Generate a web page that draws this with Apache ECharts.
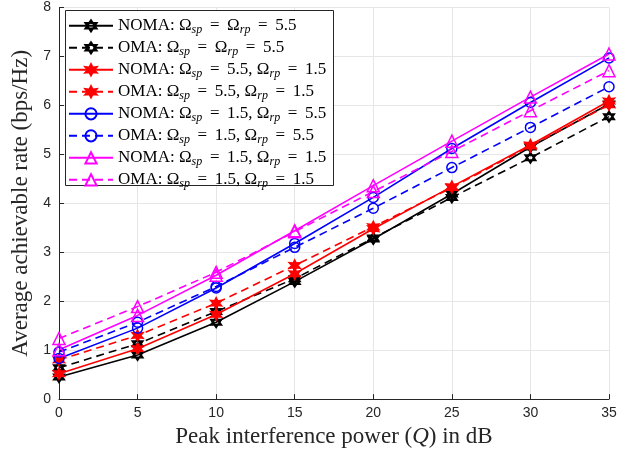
<!DOCTYPE html>
<html>
<head>
<meta charset="utf-8">
<script src="https://cdn.jsdelivr.net/npm/echarts@6/dist/echarts.min.js"></script>
<style>html,body{margin:0;padding:0;background:#fff;}#c{width:638px;height:453px;}</style>
</head>
<body>
<div id="c"></div>
<script>
const xValues = [0, 5, 10, 15, 20, 25, 30, 35];
const yTicks = [0, 1, 2, 3, 4, 5, 6, 7, 8];
const seriesNames = [
  'NOMA: Ω_sp = Ω_rp = 5.5',
  'OMA: Ω_sp = Ω_rp = 5.5',
  'NOMA: Ω_sp = 5.5, Ω_rp = 1.5',
  'OMA: Ω_sp = 5.5, Ω_rp = 1.5',
  'NOMA: Ω_sp = 1.5, Ω_rp = 5.5',
  'OMA: Ω_sp = 1.5, Ω_rp = 5.5',
  'NOMA: Ω_sp = 1.5, Ω_rp = 1.5',
  'OMA: Ω_sp = 1.5, Ω_rp = 1.5'
];
const nomaA = [0.45, 0.90, 1.57, 2.40, 3.27, 4.19, 5.15, 6.03];
const omaA  = [0.64, 1.13, 1.79, 2.46, 3.29, 4.12, 4.93, 5.77];
const nomaB = [0.52, 1.03, 1.73, 2.56, 3.48, 4.34, 5.19, 6.09];
const omaB  = [0.80, 1.30, 1.96, 2.73, 3.52, 4.32, 5.17, 6.01];
const nomaC = [0.83, 1.45, 2.27, 3.18, 4.12, 5.12, 6.06, 6.97];
const omaC  = [0.96, 1.57, 2.30, 3.10, 3.90, 4.73, 5.55, 6.38];
const nomaD = [1.01, 1.71, 2.53, 3.44, 4.36, 5.27, 6.17, 7.05];
const omaD  = [1.24, 1.89, 2.59, 3.42, 4.24, 5.06, 5.89, 6.71];
const seriesValues = [nomaA, omaA, nomaB, omaB, nomaC, omaC, nomaD, omaD];

const hexagram = 'path://M0,-10 L8.66,5 L-8.66,5 Z M0,10 L8.66,-5 L-8.66,-5 Z';
const star6 = 'path://M0,-10 L2.5,-4.3 L8.66,-5 L5,0 L8.66,5 L2.5,4.3 L0,10 L-2.5,4.3 L-8.66,5 L-5,0 L-8.66,-5 L-2.5,-4.3 Z';

const styles = [
  {c:'#000000', dash:'solid', sym:hexagram, size:10, fill:false},
  {c:'#000000', dash:[8,5], sym:hexagram, size:10, fill:false},
  {c:'#ff0000', dash:'solid', sym:star6, size:11, fill:true},
  {c:'#ff0000', dash:[8,5], sym:star6, size:11, fill:true},
  {c:'#0000ff', dash:'solid', sym:'circle', size:10, fill:false},
  {c:'#0000ff', dash:[8,5], sym:'circle', size:10, fill:false},
  {c:'#ff00ff', dash:'solid', sym:'triangle', size:12, fill:false},
  {c:'#ff00ff', dash:[8,5], sym:'triangle', size:12, fill:false}
];

const series = seriesNames.map((name, i) => {
  const s = styles[i];
  return {
    name: name,
    type: 'line',
    data: xValues.map((x, j) => [x, seriesValues[i][j]]),
    symbol: s.sym,
    symbolSize: s.size,
    lineStyle: {color: s.c, width: 1.6, type: s.dash},
    itemStyle: {color: s.fill ? s.c : 'rgba(0,0,0,0)', borderColor: s.c, borderWidth: s.sym === hexagram ? 2 : 1.5},
    emphasis: {disabled: true},
    animation: false
  };
});

const chart = echarts.init(document.getElementById('c'), null, {renderer: 'canvas'});
chart.setOption({
  backgroundColor: '#ffffff',
  animation: false,
  grid: {left: 59, right: 29, top: 7.5, bottom: 53, containLabel: false},
  graphic: [{
    type: 'rect', left: 65, top: 10, z: 3,
    shape: {width: 268, height: 175},
    style: {fill: '#ffffff', stroke: '#262626', lineWidth: 1}
  }],
  xAxis: {
    type: 'value', min: 0, max: 35, interval: 5,
    name: 'Peak interference power ({i|Q}) in dB',
    nameLocation: 'middle', nameGap: 25,
    nameTextStyle: {fontFamily: 'Liberation Serif', fontSize: 23, color: '#262626',
      rich: {i: {fontFamily: 'Liberation Serif', fontSize: 23, fontStyle: 'italic', color: '#262626'}}},
    axisLine: {onZero: false, lineStyle: {color: '#262626', width: 1}},
    axisTick: {inside: true, length: 5, lineStyle: {color: '#262626'}},
    axisLabel: {fontFamily: 'Liberation Sans', fontSize: 14, color: '#262626', margin: 7},
    splitLine: {show: true, lineStyle: {color: '#e6e6e6', width: 1}}
  },
  yAxis: {
    type: 'value', min: 0, max: 8, interval: 1,
    name: 'Average achievable rate (bps/Hz)',
    nameLocation: 'middle', nameGap: 17,
    nameTextStyle: {fontFamily: 'Liberation Serif', fontSize: 23, color: '#262626'},
    axisLine: {show: true, lineStyle: {color: '#262626', width: 1}},
    axisTick: {show: true, inside: true, length: 5, lineStyle: {color: '#262626'}},
    axisLabel: {fontFamily: 'Liberation Sans', fontSize: 14, color: '#262626', margin: 8,
      formatter: v => yTicks.indexOf(v) >= 0 ? String(v) : ''},
    splitLine: {show: true, lineStyle: {color: '#e6e6e6', width: 1}}
  },
  legend: {
    orient: 'vertical', left: 68, top: 15.8, z: 5,
    padding: 0,
    itemWidth: 44, itemHeight: 14, itemGap: 2.0,
    selectedMode: false,
    data: seriesNames,
    formatter: n => n.replace(/ = /g, '\u2009 = \u2009').replace(/_(\w+)/g, '{s|$1}'),
    textStyle: {fontFamily: 'Liberation Serif', fontSize: 17, lineHeight: 14, color: '#000',
      rich: {s: {fontFamily: 'Liberation Serif', fontSize: 12, lineHeight: 10, fontStyle: 'italic', color: '#000', padding: [8, 0, 0, 0]}}}
  },
  series: series
});
</script>
</body>
</html>
